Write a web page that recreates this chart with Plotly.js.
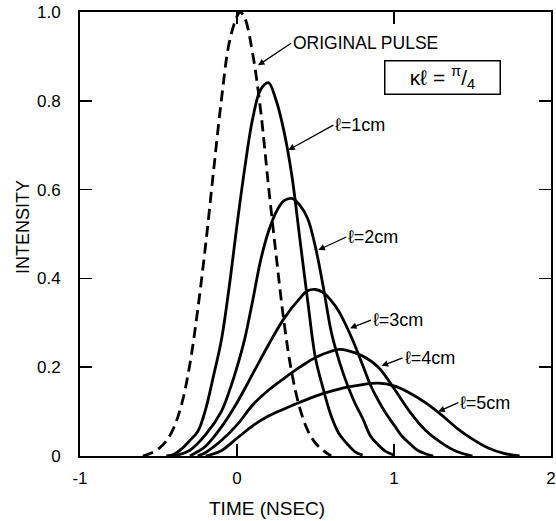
<!DOCTYPE html>
<html>
<head>
<meta charset="utf-8">
<script src="https://cdn.plot.ly/plotly-3.0.1.min.js"></script>
<style>html,body{margin:0;padding:0;background:#fff;}#chart{width:556px;height:521px;}</style>
</head>
<body>
<div id="chart"></div>
<script>
// Original pulse (dashed)
const tOrig = [-0.6, -0.55, -0.5, -0.45, -0.4, -0.35, -0.3, -0.25, -0.2, -0.15, -0.1, -0.05, 0, 0.02, 0.05, 0.1, 0.15, 0.2, 0.25, 0.3, 0.35, 0.4, 0.45, 0.5, 0.55, 0.6];
const yOrig = [0.0, 0.006, 0.016, 0.034, 0.066, 0.12, 0.207, 0.33, 0.475, 0.64, 0.80, 0.93, 0.99, 1.0, 0.986, 0.906, 0.78, 0.61, 0.45, 0.30, 0.185, 0.108, 0.058, 0.029, 0.012, 0.0];

// l = 1 cm
const t1 = [-0.45, -0.4, -0.35, -0.3, -0.25, -0.2, -0.15, -0.1, -0.05, 0, 0.05, 0.1, 0.15, 0.2, 0.25, 0.3, 0.35, 0.4, 0.45, 0.5, 0.55, 0.6, 0.65, 0.7, 0.75, 0.8];
const y1 = [0.0, 0.004, 0.017, 0.035, 0.055, 0.105, 0.18, 0.26, 0.38, 0.52, 0.65, 0.76, 0.825, 0.841, 0.80, 0.73, 0.63, 0.49, 0.35, 0.22, 0.15, 0.09, 0.05, 0.028, 0.01, 0.002];

// l = 2 cm
const t2 = [-0.4, -0.3, -0.2, -0.1, -0.05, 0, 0.05, 0.1, 0.15, 0.2, 0.25, 0.3, 0.35, 0.4, 0.45, 0.5, 0.55, 0.6, 0.65, 0.7, 0.75, 0.8, 0.85, 0.9, 0.95, 1.0];
const y2 = [0.0, 0.013, 0.048, 0.10, 0.145, 0.20, 0.265, 0.35, 0.44, 0.505, 0.55, 0.575, 0.58, 0.565, 0.535, 0.47, 0.38, 0.28, 0.215, 0.163, 0.12, 0.085, 0.045, 0.025, 0.01, 0.002];

// l = 3 cm
const t3 = [-0.3, -0.25, -0.2, -0.1, 0, 0.1, 0.2, 0.3, 0.4, 0.45, 0.5, 0.55, 0.6, 0.65, 0.7, 0.75, 0.8, 0.85, 0.9, 0.95, 1.0, 1.05, 1.1, 1.15, 1.2, 1.25];
const y3 = [0.0, 0.01, 0.022, 0.065, 0.12, 0.185, 0.25, 0.31, 0.355, 0.372, 0.375, 0.368, 0.35, 0.325, 0.29, 0.25, 0.205, 0.16, 0.125, 0.095, 0.07, 0.045, 0.028, 0.013, 0.005, 0.0];

// l = 4 cm
const t4 = [-0.25, -0.2, -0.1, 0, 0.1, 0.2, 0.3, 0.4, 0.5, 0.6, 0.65, 0.7, 0.8, 0.9, 1.0, 1.1, 1.2, 1.3, 1.4, 1.5];
const y4 = [0.0, 0.008, 0.035, 0.07, 0.115, 0.148, 0.175, 0.2, 0.222, 0.236, 0.24, 0.238, 0.225, 0.2, 0.152, 0.10, 0.058, 0.03, 0.01, 0.0];

// l = 5 cm
const t5 = [-0.2, -0.1, 0, 0.1, 0.2, 0.3, 0.4, 0.5, 0.6, 0.7, 0.8, 0.9, 1.0, 1.1, 1.2, 1.3, 1.4, 1.5, 1.6, 1.7, 1.8];
const y5 = [0.0, 0.012, 0.04, 0.068, 0.09, 0.106, 0.121, 0.135, 0.146, 0.155, 0.161, 0.164, 0.158, 0.142, 0.12, 0.093, 0.063, 0.038, 0.018, 0.006, 0.0];

const xTickVals = [-1, 0, 1, 2];
const xTickText = ['-1', '0', '1', '2'];
const yTickVals = [0, 0.2, 0.4, 0.6, 0.8, 1.0];
const yTickText = ['0', '0.2', '0.4', '0.6', '0.8', '1.0'];

const FONT = 'Liberation Sans, Arial, sans-serif';
const solid = {color: '#000', width: 2.8, shape: 'spline', smoothing: 1};

const traces = [
  {x: tOrig, y: yOrig, mode: 'lines', line: {color: '#000', width: 2.8, dash: '11px,6px', shape: 'spline', smoothing: 1}},
  {x: t1, y: y1, mode: 'lines', line: solid},
  {x: t2, y: y2, mode: 'lines', line: solid},
  {x: t3, y: y3, mode: 'lines', line: solid},
  {x: t4, y: y4, mode: 'lines', line: solid},
  {x: t5, y: y5, mode: 'lines', line: solid}
];

function lab(text, x, y, ax, ay, size) {
  return {text: text, x: x, y: y, xref: 'x', yref: 'y', ax: ax, ay: ay, xanchor: 'left', yanchor: 'middle',
    showarrow: true, arrowhead: 2, arrowsize: 1, arrowwidth: 1.3, arrowcolor: '#000', standoff: 0,
    font: {family: FONT, size: size || 18, color: '#000'}};
}

const layout = {
  width: 556, height: 521,
  margin: {l: 80, r: 5, t: 12, b: 65},
  paper_bgcolor: '#fff', plot_bgcolor: '#fff',
  showlegend: false,
  font: {family: FONT, color: '#000', size: 17},
  xaxis: {range: [-1, 2], tickvals: xTickVals, ticktext: xTickText, ticks: 'inside', ticklen: 12, tickwidth: 1.5,
    tickcolor: '#000', showline: true, linecolor: '#000', linewidth: 2, mirror: 'ticks', showgrid: false,
    zeroline: false, tickfont: {family: FONT, size: 17}, ticklabelstandoff: 6},
  yaxis: {range: [0, 1.0], tickvals: yTickVals, ticktext: yTickText, ticks: 'inside', ticklen: 12, tickwidth: 1.5,
    tickcolor: '#000', showline: true, linecolor: '#000', linewidth: 2, mirror: 'ticks', showgrid: false,
    zeroline: false, tickfont: {family: FONT, size: 17}, ticklabelstandoff: 14},
  annotations: [
    {text: 'TIME (NSEC)', xref: 'paper', yref: 'paper', x: (267 - 80) / 471, y: -0.118, xanchor: 'center', yanchor: 'middle',
      showarrow: false, font: {family: FONT, size: 19}},
    {text: 'INTENSITY', xref: 'paper', yref: 'paper', x: (23 - 80) / 471, y: (456 - 227) / 444, xanchor: 'center', yanchor: 'middle',
      textangle: -90, showarrow: false, font: {family: FONT, size: 18}},
    lab('ORIGINAL PULSE', 0.134, 0.88, 33, -22, 17.5),
    lab('ℓ=1cm', 0.327, 0.689, 45, -25),
    lab('ℓ=2cm', 0.518, 0.464, 28, -13),
    lab('ℓ=3cm', 0.72, 0.288, 21, -8),
    lab('ℓ=4cm', 0.921, 0.203, 21, -8),
    lab('ℓ=5cm', 1.282, 0.10, 20, -9),
    {text: 'κℓ = <sup>π</sup>/<sub>4</sub>', x: 1.31, y: 0.853, xref: 'x', yref: 'y', showarrow: false,
      xanchor: 'center', yanchor: 'middle', width: 112, height: 30, bordercolor: '#000', borderwidth: 1.5, borderpad: 1,
      font: {family: FONT, size: 21, color: '#000'}}
  ]
};

Plotly.newPlot('chart', traces, layout, {staticPlot: true, displayModeBar: false});
</script>
</body>
</html>
